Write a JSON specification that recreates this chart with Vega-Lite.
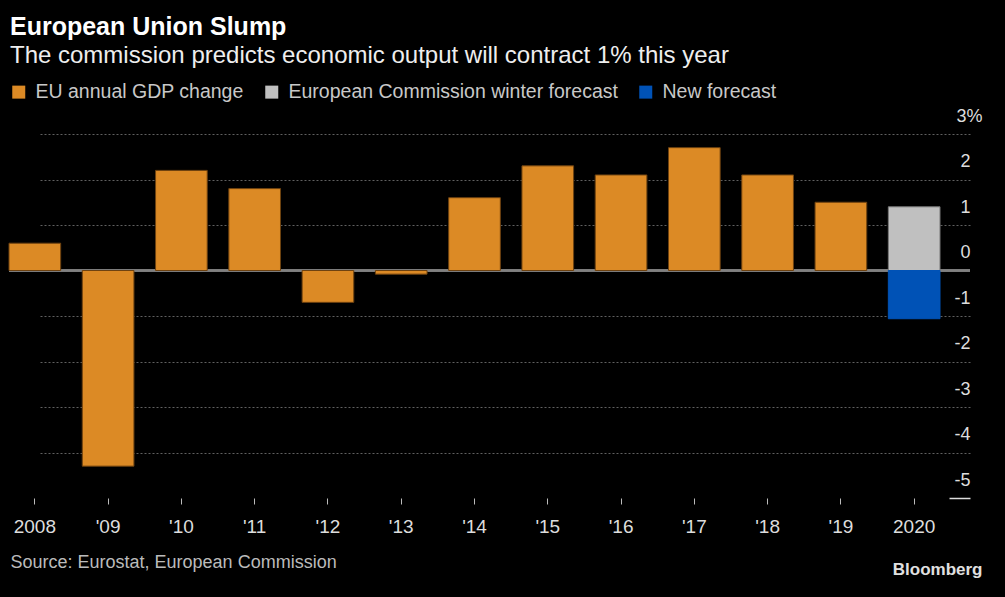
{
  "$schema": "https://vega.github.io/schema/vega-lite/v6.json",
  "autosize": {"type": "none"},
  "padding": {"left": 9, "top": 134, "right": 35, "bottom": 99},
  "width": 961,
  "height": 364,
  "background": "#000000",
  "view": {"stroke": null},
  "title": {
    "text": "European Union Slump",
    "subtitle": "The commission predicts economic output will contract 1% this year",
    "anchor": "start",
    "frame": "group",
    "dx": 1,
    "offset": 14,
    "font": "Liberation Sans",
    "fontSize": 25,
    "fontWeight": "bold",
    "color": "#ffffff",
    "subtitleFont": "Liberation Sans",
    "subtitleFontSize": 24,
    "subtitleColor": "#eeeeee",
    "subtitlePadding": 4
  },
  "data": {
    "values": [
      {"year": "2008", "series": "EU annual GDP change", "value": 0.6},
      {"year": "'09", "series": "EU annual GDP change", "value": -4.3},
      {"year": "'10", "series": "EU annual GDP change", "value": 2.2},
      {"year": "'11", "series": "EU annual GDP change", "value": 1.8},
      {"year": "'12", "series": "EU annual GDP change", "value": -0.7},
      {"year": "'13", "series": "EU annual GDP change", "value": -0.08},
      {"year": "'14", "series": "EU annual GDP change", "value": 1.6},
      {"year": "'15", "series": "EU annual GDP change", "value": 2.3},
      {"year": "'16", "series": "EU annual GDP change", "value": 2.1},
      {"year": "'17", "series": "EU annual GDP change", "value": 2.7},
      {"year": "'18", "series": "EU annual GDP change", "value": 2.1},
      {"year": "'19", "series": "EU annual GDP change", "value": 1.5},
      {"year": "2020", "series": "European Commission winter forecast", "value": 1.4},
      {"year": "2020", "series": "New forecast", "value": -1.06}
    ]
  },
  "layer": [
    {
      "mark": {"type": "rule", "color": "#808080", "strokeWidth": 1.5},
      "encoding": {"y": {"datum": 0, "type": "quantitative"}}
    },
    {
      "mark": {"type": "bar", "strokeWidth": 1},
      "encoding": {
        "x": {
          "field": "year",
          "type": "nominal",
          "sort": ["2008", "'09", "'10", "'11", "'12", "'13", "'14", "'15", "'16", "'17", "'18", "'19", "2020"],
          "scale": {"range": [0, 931], "paddingInner": 0.295, "paddingOuter": 0},
          "axis": {
            "title": "Source: Eurostat, European Commission",
            "titleFont": "Liberation Sans",
            "titleFontSize": 18,
            "titleFontWeight": "normal",
            "titleColor": "#bbbbbb",
            "titleAlign": "left",
            "titleBaseline": "alphabetic",
            "titleAnchor": "start",
            "titleX": 1,
            "titleY": 69,
            "domain": false,
            "grid": false,
            "labelAngle": 0,
            "labelFont": "Liberation Sans",
            "labelFontSize": 19,
            "labelColor": "#dddddd",
            "labelPadding": 13,
            "tickColor": "#bbbbbb",
            "tickSize": 6,
            "tickWidth": 1
          }
        },
        "y": {
          "field": "value",
          "type": "quantitative",
          "stack": "zero",
          "scale": {"domain": [-5, 3], "nice": false},
          "axis": {
            "orient": "right",
            "title": "Bloomberg",
            "titleAngle": 0,
            "titleFont": "Liberation Sans",
            "titleFontSize": 17,
            "titleFontWeight": "bold",
            "titleColor": "#e0e0e0",
            "titleAlign": "right",
            "titleBaseline": "alphabetic",
            "titleX": 12,
            "titleY": 440,
            "values": [-5, -4, -3, -2, -1, 0, 1, 2, 3],
            "labelExpr": "datum.value == 3 ? '3%' : '' + datum.value",
            "domain": false,
            "grid": true,
            "gridColor": "#606060",
            "gridDash": [2, 2],
            "gridWidth": 1,
            "gridOpacity": {"condition": {"test": "datum.value == 0 || datum.value == -5", "value": 0}, "value": 1},
            "ticks": true,
            "tickSize": -21,
            "tickWidth": 1.5,
            "tickColor": "#dddddd",
            "tickOpacity": {"condition": {"test": "datum.value == -5", "value": 1}, "value": 0},
            "labelAlign": "right",
            "labelBaseline": "alphabetic",
            "labelOffset": -13,
            "labelPadding": {"condition": {"test": "datum.value == 3", "value": 33}, "value": 21},
            "labelFont": "Liberation Sans",
            "labelFontSize": 18,
            "labelColor": "#dddddd"
          }
        },
        "color": {
          "field": "series",
          "type": "nominal",
          "scale": {
            "domain": ["EU annual GDP change", "European Commission winter forecast", "New forecast"],
            "range": ["#dc8a25", "#c0c0c0", "#0052b6"]
          },
          "legend": {
            "orient": "none",
            "legendX": 0,
            "legendY": -52,
            "direction": "horizontal",
            "title": null,
            "padding": 0,
            "symbolType": "square",
            "symbolSize": 169,
            "symbolStrokeWidth": 0,
            "symbolOpacity": 1,
            "labelOffset": 7,
            "columnPadding": 18,
            "labelFont": "Liberation Sans",
            "labelFontSize": 19.5,
            "labelColor": "#c8c8c8",
            "labelLimit": 0
          }
        },
        "stroke": {
          "field": "series",
          "type": "nominal",
          "scale": {
            "domain": ["EU annual GDP change", "European Commission winter forecast", "New forecast"],
            "range": ["#6e4210", "#777777", "#0052b6"]
          },
          "legend": null
        }
      }
    }
  ]
}
